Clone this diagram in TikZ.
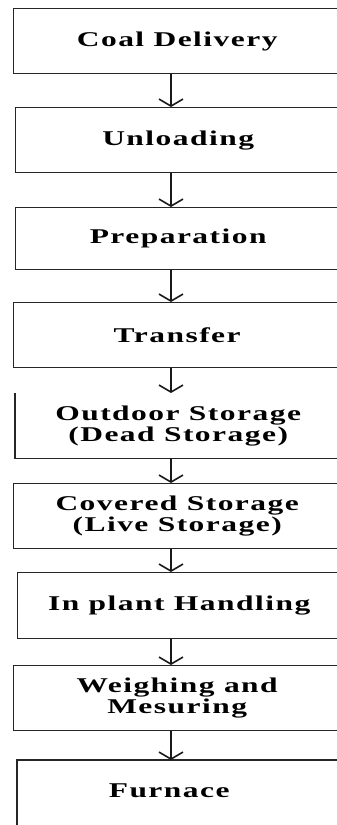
\documentclass[tikz,border=0pt]{standalone}
\usepackage{fontspec}
\setmainfont{Liberation Serif}[FakeStretch=1.5,LetterSpace=7]
\usetikzlibrary{arrows.meta}
\tikzset{
  stepbox/.style={draw=black!85, line width=1.4pt, rectangle, anchor=north west,
    inner sep=0pt, align=center,
    font=\fontsize{21}{21}\selectfont\bfseries},
  openbox/.style={stepbox, draw=none},
  edge/.style={draw=black!85, line width=1.4pt},
  arr/.style={draw=black!90, line width=1.6pt,
    -{Straight Barb[length=7pt,width=24pt,line width=1.6pt]}},
}
\begin{document}
\begin{tikzpicture}[x=1pt,y=-1pt]
\useasboundingbox (0,0) rectangle (337,825);
\clip (0,0) rectangle (337,825);
\fill[white] (0,0) rectangle (337,825);
\coordinate (ax) at (171,0);
\node[stepbox, minimum width=327pt, minimum height=65pt] (b1) at (13,8) {Coal Delivery};
\node[stepbox, minimum width=325pt, minimum height=65pt] (b2) at (15,107) {Unloading};
\node[stepbox, minimum width=325pt, minimum height=62pt] (b3) at (15,207) {Preparation};
\node[stepbox, minimum width=327pt, minimum height=65pt] (b4) at (13,302) {Transfer};
\node[openbox, minimum width=325pt, minimum height=64pt] (b5) at (15,393) {Outdoor Storage\\(Dead Storage)};
\draw[edge] (b5.north west) -- (b5.south west) -- (b5.south east);
\node[stepbox, minimum width=327pt, minimum height=65pt] (b6) at (13,483) {Covered Storage\\(Live Storage)};
\node[stepbox, minimum width=323pt, minimum height=66pt] (b7) at (17,572) {In plant Handling};
\node[stepbox, minimum width=327pt, minimum height=65pt] (b8) at (13,665) {Weighing and\\Mesuring};
\node[openbox, minimum width=323pt, minimum height=60pt] (b9) at (17,760) {\hspace*{-20pt}Furnace};
\draw[edge] (b9.north east) -- (b9.north west) -- ++(0,80);
\draw[arr] (b1.south -| ax) -- (b2.north -| ax);
\draw[arr] (b2.south -| ax) -- (b3.north -| ax);
\draw[arr] (b3.south -| ax) -- (b4.north -| ax);
\draw[arr] (b4.south -| ax) -- (b5.north -| ax);
\draw[arr] (b5.south -| ax) -- (b6.north -| ax);
\draw[arr] (b6.south -| ax) -- (b7.north -| ax);
\draw[arr] (b7.south -| ax) -- (b8.north -| ax);
\draw[arr] (b8.south -| ax) -- (b9.north -| ax);
\end{tikzpicture}
\end{document}
